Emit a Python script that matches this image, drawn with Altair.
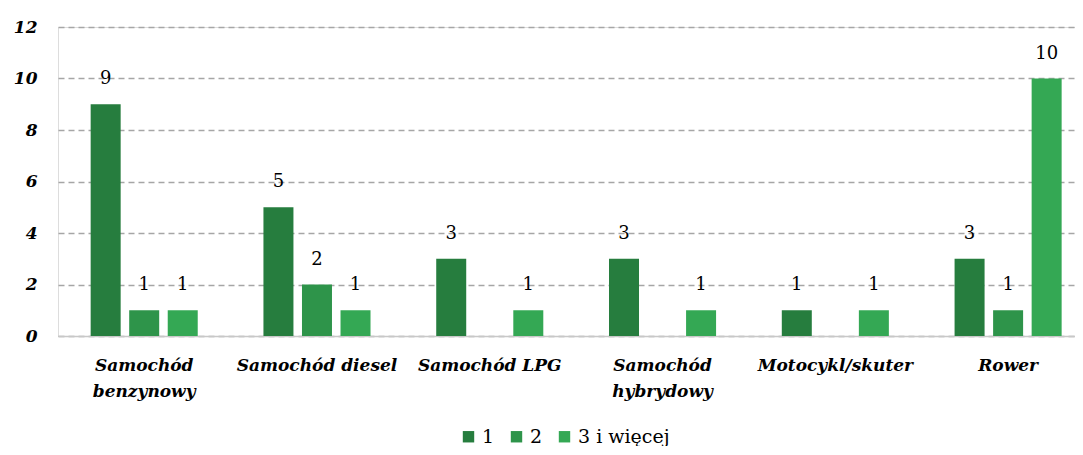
import altair as alt
import pandas as pd

categories = ["Samochód benzynowy", "Samochód diesel", "Samochód LPG",
              "Samochód hybrydowy", "Motocykl/skuter", "Rower"]
series = ["1", "2", "3 i więcej"]
s1 = [9, 5, 3, 3, 1, 3]
s2 = [1, 2, None, None, None, 1]
s3 = [1, 1, 1, 1, 1, 10]
colors = ["#267d3e", "#2e944a", "#34a854"]

rows = []
for i, c in enumerate(categories):
    for s, vals in zip(series, [s1, s2, s3]):
        if vals[i] is not None:
            rows.append({"cat": c, "series": s, "value": vals[i]})
df = pd.DataFrame(rows)

FONT = "DejaVu Serif"

x = alt.X("cat:N", sort=categories, title=None,
          scale=alt.Scale(paddingInner=0.38, paddingOuter=0.133, align=0.71),
          axis=alt.Axis(labelAngle=0, labelFont=FONT, labelFontSize=17,
                        labelFontWeight="bold", labelFontStyle="italic",
                        labelColor="#000000", labelPadding=21, labelLineHeight=26,
                        labelBaseline="top",
                        labelExpr="indexof(['Samochód benzynowy','Samochód hybrydowy'], datum.label) >= 0 ? split(datum.label, ' ') : datum.label",
                        ticks=False, domainColor="#c8c8c8", domainWidth=1.5,
                        grid=False))
xo = alt.XOffset("series:N", sort=series,
                 scale=alt.Scale(domain=series, paddingInner=0.22, paddingOuter=0))
y = alt.Y("value:Q", title=None,
          scale=alt.Scale(domain=[0, 12]),
          axis=alt.Axis(values=[0, 2, 4, 6, 8, 10, 12], labelFont=FONT,
                        labelFontSize=17, labelFontWeight="bold",
                        labelFontStyle="italic", labelColor="#000000",
                        labelPadding=21, ticks=False, domain=False,
                        gridColor="#a6a6a6", gridDash=[6, 4], gridWidth=1.5))

color = alt.Color("series:N", sort=series,
                  scale=alt.Scale(domain=series, range=colors),
                  legend=alt.Legend(title=None, orient="none", direction="horizontal",
                                    legendX=401, legendY=400,
                                    symbolType="square", symbolSize=130,
                                    symbolStrokeWidth=0,
                                    labelFont=FONT, labelFontSize=19,
                                    labelColor="#000000", columnPadding=12,
                                    labelOffset=4))

bars = alt.Chart(df).mark_bar(size=30).encode(x=x, xOffset=xo, y=y, color=color)
labels = alt.Chart(df).mark_text(font=FONT, fontSize=18, dy=-25,
                                 baseline="middle", color="#000000").encode(
    x=x, xOffset=xo, y=y, text="value:Q")

chart = alt.layer(bars, labels).properties(
    width=1017, height=309,
    autosize=alt.AutoSizeParams(type="none"),
    padding={"left": 50, "top": 19, "right": 0, "bottom": 110},
).configure_view(stroke=None).configure(background="#ffffff")

chart.save("out.html", embed_options={"renderer": "svg", "actions": False})
